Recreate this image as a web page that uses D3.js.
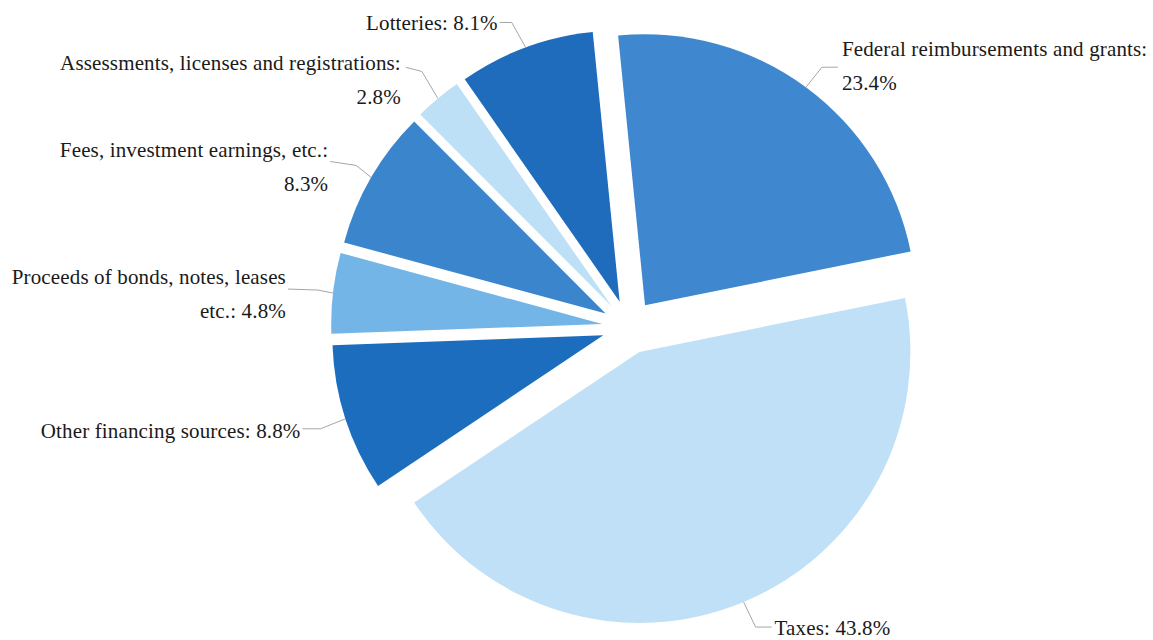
<!DOCTYPE html>
<html>
<head>
<meta charset="utf-8">
<script src="https://cdn.jsdelivr.net/npm/d3@7"></script>
<style>
  html, body { margin: 0; padding: 0; background: #ffffff; }
  svg { display: block; }
  text { font-family: "Liberation Serif", "Tinos", "DejaVu Serif", serif; fill: #1a1a1a; }
</style>
</head>
<body>
<svg id="chart" width="1153" height="640"></svg>
<script>
// ---- data ----
const categories = [
  "Federal reimbursements and grants",
  "Taxes",
  "Other financing sources",
  "Proceeds of bonds, notes, leases etc.",
  "Fees, investment earnings, etc.",
  "Assessments, licenses and registrations",
  "Lotteries"
];
const values = [23.4, 43.8, 8.8, 4.8, 8.3, 2.8, 8.1];
const colors = ["#3f88cf", "#bfe0f6", "#1d6dbe", "#74b5e8", "#3b85cd", "#bee0f6", "#1e6cbb"];

// ---- layout (label placement, not data) ----
const labelLayout = [
  { words: 4, anchor: "start", elbow: [16, -20], end: [32, -20], text: [36, -39] },
  { words: 99, anchor: "start", elbow: [12, 25], end: [28, 25], text: [31, 26] },
  { words: 99, anchor: "end", elbow: [-25, 10], end: [-43, 10], text: [-45, 12] },
  { words: 5, anchor: "end", elbow: [-15, -3], end: [-45, -4], text: [-47, -16] },
  { words: 4, anchor: "end", elbow: [-15, -12], end: [-41, -16], text: [-43, -28] },
  { words: 4, anchor: "end", elbow: [-16, -27], end: [-32, -31], text: [-37, -36] },
  { words: 99, anchor: "end", elbow: [-14, -25], end: [-26, -25], text: [-28, -25] }
];

const W = 1153, H = 640;
const cx = 629, cy = 327, R = 271, explode = 27;
const startA = -5.7 * Math.PI / 180;
const lineH = 34;

const svg = d3.select("#chart");
const data = categories.map((c, i) => ({ cat: c, value: values[i], color: colors[i], layout: labelLayout[i] }));

const pie = d3.pie().sort(null).value(d => d.value)
  .startAngle(startA).endAngle(startA + 2 * Math.PI);
const arc = d3.arc().innerRadius(0).outerRadius(R);
const arcs = pie(data);

const g = svg.append("g").attr("transform", `translate(${cx},${cy})`);

const slices = g.selectAll("g.slice").data(arcs).join("g")
  .attr("class", "slice")
  .attr("transform", d => {
    const m = (d.startAngle + d.endAngle) / 2;
    return `translate(${explode * Math.sin(m)},${-explode * Math.cos(m)})`;
  });

slices.append("path")
  .attr("d", arc)
  .attr("fill", d => d.data.color);

slices.each(function(d) {
  const m = (d.startAngle + d.endAngle) / 2;
  const p = [R * Math.sin(m), -R * Math.cos(m)];
  const L = d.data.layout;
  const el = [p[0] + L.elbow[0], p[1] + L.elbow[1]];
  const en = [p[0] + L.end[0], p[1] + L.end[1]];
  const sel = d3.select(this);
  sel.append("polyline")
    .attr("points", [p, el, en].map(q => q.join(",")).join(" "))
    .attr("fill", "none")
    .attr("stroke", "#a6a6a6")
    .attr("stroke-width", 1);
  const full = `${d.data.cat}: ${d.data.value.toFixed(1)}%`;
  const words = full.split(" ");
  const lines = [];
  if (L.words < words.length) {
    lines.push(words.slice(0, L.words).join(" "));
    lines.push(words.slice(L.words).join(" "));
  } else {
    lines.push(full);
  }
  const t = sel.append("text")
    .attr("x", p[0] + L.text[0])
    .attr("y", p[1] + L.text[1])
    .attr("text-anchor", L.anchor)
    .attr("font-size", "21px")
    .attr("letter-spacing", "0.15px");
  lines.forEach((ln, i) => {
    t.append("tspan")
      .attr("x", p[0] + L.text[0])
      .attr("y", p[1] + L.text[1] + i * lineH)
      .attr("dy", "0.35em")
      .text(ln);
  });
});
</script>
</body>
</html>
